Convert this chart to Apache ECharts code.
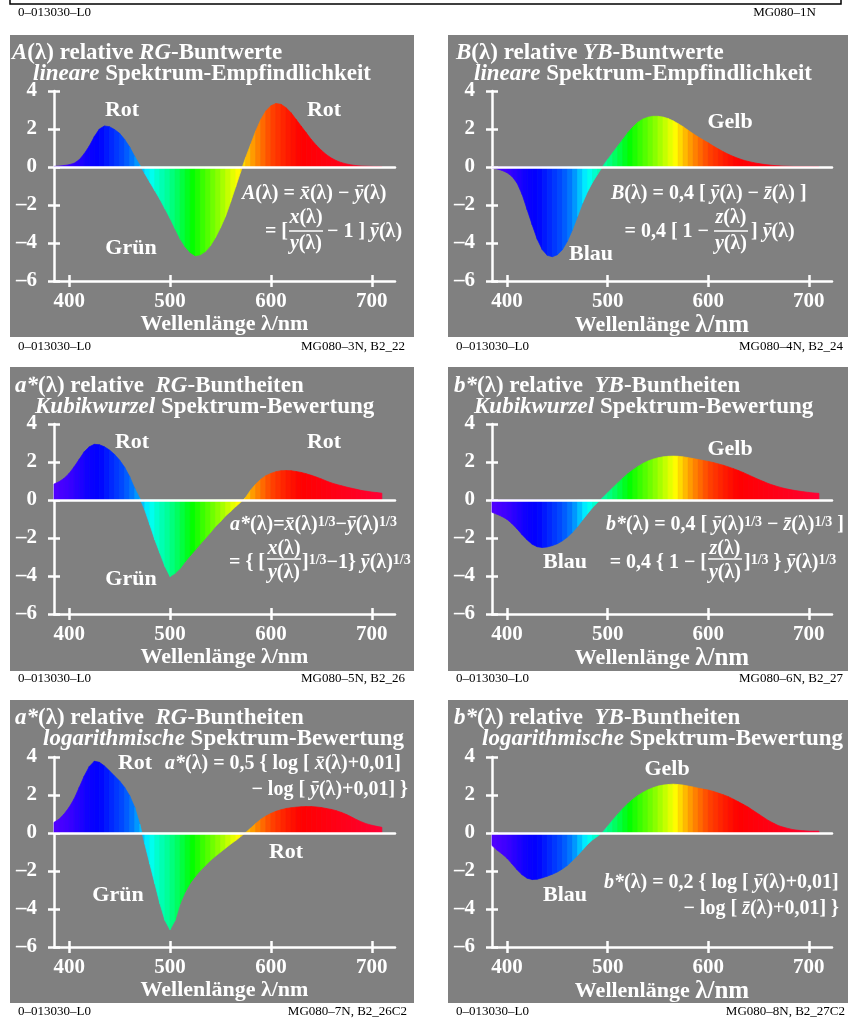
<!DOCTYPE html>
<html>
<head>
<meta charset="utf-8">
<script src="https://cdn.jsdelivr.net/npm/echarts@6/dist/echarts.min.js"></script>
<style>
html,body{margin:0;padding:0;background:#fff;}
#chart{width:848px;height:1023px;}
</style>
</head>
<body>
<div id="chart"></div>
<script>
// Stuetzstellen (nm)
var wavelengths = [385,390,395,400,405,410,415,420,425,430,
  435,440,445,450,455,460,465,470,475,480,
  485,490,495,500,505,510,515,520,525,530,
  535,540,545,550,555,560,565,570,575,580,
  585,590,595,600,605,610,615,620,625,630,
  635,640,645,650,655,660,665,670,675,680,
  685,690,695,700,705,710];

// A(lambda) lineare RG-Buntwerte
var aLinear = [0.03,0.05,0.08,0.12,0.2,0.38,0.7,1.1,1.6,2.0,
  2.16,2.12,1.97,1.77,1.45,1.05,0.55,0.1,-0.35,-0.8,
  -1.25,-1.7,-2.2,-2.7,-3.25,-3.78,-4.2,-4.5,-4.67,-4.62,
  -4.45,-4.15,-3.72,-3.2,-2.6,-1.85,-1.05,-0.25,0.5,1.2,
  1.9,2.5,2.95,3.22,3.34,3.3,3.12,2.85,2.5,2.15,
  1.8,1.45,1.15,0.88,0.65,0.47,0.33,0.23,0.16,0.11,
  0.07,0.05,0.04,0.03,0.02,0.01];

// B(lambda) lineare YB-Buntwerte
var bLinear = [-0.05,-0.1,-0.18,-0.3,-0.5,-0.85,-1.45,-2.25,-3.05,-3.8,
  -4.35,-4.65,-4.72,-4.62,-4.35,-3.9,-3.3,-2.6,-1.9,-1.3,
  -0.8,-0.38,0.03,0.4,0.75,1.1,1.45,1.8,2.1,2.35,
  2.52,2.62,2.67,2.67,2.63,2.55,2.43,2.28,2.12,1.93,
  1.75,1.58,1.42,1.27,1.1,0.95,0.8,0.67,0.55,0.45,
  0.36,0.29,0.23,0.18,0.14,0.11,0.08,0.06,0.045,0.035,
  0.025,0.02,0.015,0.01,0.01,0.01];

// a*(lambda) Kubikwurzel
var aCubic = [0.84,0.96,1.14,1.4,1.75,2.14,2.54,2.8,2.93,2.91,
  2.8,2.63,2.4,2.1,1.72,1.23,0.61,0.09,-0.53,-1.3,
  -2.1,-2.8,-3.5,-4.03,-3.86,-3.6,-3.25,-2.93,-2.63,-2.32,
  -2.02,-1.72,-1.4,-1.14,-0.84,-0.61,-0.35,-0.12,0.14,0.53,
  0.84,1.09,1.28,1.4,1.49,1.54,1.55,1.54,1.5,1.45,
  1.38,1.3,1.21,1.11,1.0,0.9,0.82,0.75,0.68,0.62,
  0.56,0.5,0.46,0.42,0.39,0.36];

// b*(lambda) Kubikwurzel
var bCubic = [-0.65,-0.75,-0.87,-1.02,-1.25,-1.52,-1.83,-2.1,-2.33,-2.46,
  -2.5,-2.47,-2.4,-2.3,-2.15,-1.95,-1.7,-1.4,-1.05,-0.72,
  -0.4,-0.13,0.12,0.38,0.64,0.9,1.15,1.38,1.58,1.76,
  1.92,2.05,2.15,2.22,2.27,2.3,2.31,2.3,2.27,2.23,
  2.18,2.13,2.08,2.03,1.97,1.9,1.83,1.74,1.65,1.55,
  1.44,1.32,1.2,1.08,0.97,0.86,0.77,0.69,0.62,0.56,
  0.51,0.47,0.43,0.4,0.37,0.35];

// a*(lambda) logarithmisch
var aLog = [0.56,0.73,1.0,1.35,1.8,2.4,3.0,3.5,3.78,3.72,
  3.53,3.27,3.0,2.74,2.4,1.96,1.35,0.47,-0.58,-1.63,
  -2.67,-3.72,-4.6,-5.09,-4.6,-3.72,-3.11,-2.64,-2.29,-1.98,
  -1.71,-1.45,-1.22,-1.01,-0.8,-0.59,-0.4,-0.19,0.02,0.26,
  0.5,0.72,0.89,1.03,1.14,1.22,1.29,1.33,1.36,1.38,
  1.39,1.39,1.37,1.34,1.29,1.24,1.17,1.08,0.97,0.84,
  0.7,0.58,0.48,0.41,0.35,0.3];

// b*(lambda) logarithmisch
var bLog = [-0.66,-0.9,-1.1,-1.33,-1.63,-1.94,-2.2,-2.38,-2.45,-2.43,
  -2.36,-2.27,-2.17,-2.05,-1.89,-1.7,-1.45,-1.19,-0.89,-0.6,
  -0.36,-0.17,0.04,0.36,0.68,0.99,1.28,1.54,1.77,1.97,
  2.13,2.27,2.38,2.47,2.52,2.55,2.57,2.55,2.52,2.47,
  2.42,2.36,2.31,2.26,2.19,2.1,2.01,1.91,1.78,1.64,
  1.5,1.35,1.17,1.0,0.82,0.65,0.51,0.38,0.3,0.23,
  0.17,0.14,0.12,0.1,0.1,0.1];

var xTickValues = [400,500,600,700];
var yTicks = [-6,-4,-2,0,2,4];

// Farbtabelle Spektrum (nm -> rgb)
var spectrumStops = [
  [380,[90,0,255]],[400,[60,0,255]],[420,[10,0,255]],[430,[0,0,255]],
  [445,[0,48,255]],[455,[0,80,255]],[465,[0,130,255]],[472,[0,190,255]],
  [480,[0,255,255]],[490,[0,255,190]],[500,[0,255,140]],[510,[0,255,80]],
  [522,[0,255,0]],[535,[70,255,0]],[548,[140,255,0]],[558,[200,255,0]],
  [567,[255,255,0]],[575,[255,200,0]],[585,[255,140,0]],[600,[255,70,0]],
  [615,[255,30,0]],[630,[255,0,0]],[680,[255,0,30]],[720,[255,0,60]]
];

var F = '"Liberation Serif","Times New Roman",serif';
var GRAY = '#808080';
var AXW = 2.5;

function spectrumColor(l){
  var s = spectrumStops;
  if(l <= s[0][0]) return 'rgb(' + s[0][1].join(',') + ')';
  for(var i=1;i<s.length;i++){
    if(l <= s[i][0]){
      var t = (l - s[i-1][0]) / (s[i][0] - s[i-1][0]);
      var c = [];
      for(var k=0;k<3;k++) c.push(Math.round(s[i-1][1][k] + t*(s[i][1][k]-s[i-1][1][k])));
      return 'rgb(' + c.join(',') + ')';
    }
  }
  return 'rgb(' + s[s.length-1][1].join(',') + ')';
}

function bandData(values){
  var d = [];
  for(var i=0;i<values.length-1;i++){
    d.push([wavelengths[i], values[i], wavelengths[i+1], values[i+1]]);
  }
  return d;
}

function renderBand(params, api){
  var l0 = api.value(0), v0 = api.value(1), l1 = api.value(2), v1 = api.value(3);
  var c = spectrumColor((l0 + l1) / 2);
  return {
    type: 'polygon',
    shape: { points: [api.coord([l0,0]), api.coord([l0,v0]), api.coord([l1,v1]), api.coord([l1,0])] },
    style: { fill: c, stroke: c, lineWidth: 0.7 }
  };
}

// Grids: links / rechts, drei Zeilen
var gridPos = [[54,91,341],[492,91,340],[54,424,341],[492,424,340],[54,757,341],[492,757,340]];
var panelValues = [aLinear, bLinear, aCubic, bCubic, aLog, bLog];

var tickStyle = {color:'#fff', width:AXW};
var grids = [], xAxes = [], yAxes = [], series = [];
gridPos.forEach(function(p, g){
  var right = (g % 2 == 1);
  grids.push({left:p[0], top:p[1], width:p[2], height:190, containLabel:false, outerBoundsMode:'none'});
  var xb = {gridIndex:g, type:'value', min:385, max:723, position:'bottom', splitLine:{show:false}};
  xAxes.push(Object.assign({}, xb, {
    axisLine:{show:true, onZero:false, lineStyle:tickStyle},
    axisTick:{show:true, inside:true, length:6, customValues:xTickValues, lineStyle:tickStyle},
    axisLabel:{show:true, customValues:xTickValues, color:'#fff', fontFamily:F, fontSize:21, fontWeight:'bold', margin:10},
    name: right ? 'Wellenlänge {b|λ/nm}' : 'Wellenlänge λ/nm',
    nameLocation:'middle', nameGap:28,
    nameTextStyle:{color:'#fff', fontFamily:F, fontSize:22, fontWeight:'bold',
      rich:{b:{color:'#fff', fontFamily:F, fontSize:25, fontWeight:'bold'}}}
  }));
  xAxes.push(Object.assign({}, xb, {
    axisLine:{show:false, onZero:false},
    axisTick:{show:true, inside:false, length:6, customValues:xTickValues, lineStyle:tickStyle},
    axisLabel:{show:false}
  }));
  xAxes.push(Object.assign({}, xb, {
    z:10,
    axisLine:{show:true, onZero:true, lineStyle:tickStyle},
    axisTick:{show:false}, axisLabel:{show:false}
  }));
  var yb = {gridIndex:g, type:'value', min:yTicks[0], max:yTicks[yTicks.length-1], interval:2, position:'left', splitLine:{show:false}};
  yAxes.push(Object.assign({}, yb, {
    axisLine:{show:true, onZero:false, lineStyle:tickStyle},
    axisTick:{show:true, inside:true, length:6, lineStyle:tickStyle},
    axisLabel:{color:'#fff', fontFamily:F, fontSize:21, fontWeight:'bold', margin:17,
      formatter:function(v){ return v < 0 ? '–' + (-v) : String(v); }}
  }));
  yAxes.push(Object.assign({}, yb, {
    axisLine:{show:false, onZero:false},
    axisTick:{show:true, inside:false, length:6, lineStyle:tickStyle},
    axisLabel:{show:false}
  }));
  series.push({
    type:'custom', xAxisIndex:3*g, yAxisIndex:2*g, z:2, silent:true,
    renderItem: renderBand, encode:{x:0, y:1},
    data: bandData(panelValues[g])
  });
});

// Texte
function richSet(size){
  return {
    i:{fontStyle:'italic', fontWeight:'bold', fontSize:size, fontFamily:F, fill:'#fff'},
    s:{fontStyle:'normal', fontWeight:'bold', fontSize:Math.round(size*0.7), fontFamily:F, fill:'#fff', verticalAlign:'top'}
  };
}
function txt(x, y, text, size, align){
  return {type:'text', x:x, y:y, z:100, silent:true,
    style:{text:text, fill:'#fff', fontFamily:F, fontSize:size, fontWeight:'bold',
      align:align || 'left', verticalAlign:'middle', rich:richSet(size)}};
}
function foot(x, y, text, align){
  return {type:'text', x:x, y:y, z:100, silent:true,
    style:{text:text, fill:'#000', fontFamily:F, fontSize:13, fontWeight:'normal',
      align:align || 'left', verticalAlign:'middle'}};
}
function frac(cx, yNum, yBar, yDen, half, num, den){
  return [
    txt(cx, yNum, num, 20, 'center'),
    {type:'line', z:100, silent:true, shape:{x1:cx-half, y1:yBar, x2:cx+half, y2:yBar}, style:{stroke:'#fff', lineWidth:1.6}},
    txt(cx, yDen, den, 20, 'center')
  ];
}

var xb = 'x\u0304', zb = 'z\u0304', yb = '\u0233';
var graphics = [];
[[10,35,302],[448,35,302],[10,367,304],[448,367,304],[10,700,303],[448,700,303]].forEach(function(r){
  graphics.push({type:'rect', z:-10, silent:true, shape:{x:r[0], y:r[1], width:404, height:r[2]}, style:{fill:GRAY}});
});
graphics.push({type:'polyline', z:100, silent:true, shape:{points:[[10,0],[10,4],[841,4],[841,0]]}, style:{stroke:'#000', lineWidth:1.5, fill:null}});

// Titel
graphics.push(
  txt(12, 53, '{i|A}(λ) relative {i|RG}-Buntwerte', 23),
  txt(33, 74, '{i|lineare} Spektrum-Empfindlichkeit', 23),
  txt(456, 53, '{i|B}(λ) relative {i|YB}-Buntwerte', 23),
  txt(474, 74, '{i|lineare} Spektrum-Empfindlichkeit', 23),
  txt(15, 386, '{i|a*}(λ) relative  {i|RG}-Buntheiten', 23),
  txt(35, 407, '{i|Kubikwurzel} Spektrum-Bewertung', 23),
  txt(454, 386, '{i|b*}(λ) relative  {i|YB}-Buntheiten', 23),
  txt(474, 407, '{i|Kubikwurzel} Spektrum-Bewertung', 23),
  txt(15, 718, '{i|a*}(λ) relative  {i|RG}-Buntheiten', 23),
  txt(43, 739, '{i|logarithmische} Spektrum-Bewertung', 23),
  txt(454, 718, '{i|b*}(λ) relative  {i|YB}-Buntheiten', 23),
  txt(482, 739, '{i|logarithmische} Spektrum-Bewertung', 23)
);

// Farbnamen
graphics.push(
  txt(122, 110, 'Rot', 22, 'center'), txt(324, 110, 'Rot', 22, 'center'), txt(131, 248, 'Grün', 22, 'center'),
  txt(730, 122, 'Gelb', 22, 'center'), txt(591, 254, 'Blau', 22, 'center'),
  txt(132, 442, 'Rot', 22, 'center'), txt(324, 442, 'Rot', 22, 'center'), txt(131, 579, 'Grün', 22, 'center'),
  txt(730, 449, 'Gelb', 22, 'center'), txt(565, 562, 'Blau', 22, 'center'),
  txt(135, 763, 'Rot', 22, 'center'), txt(286, 852, 'Rot', 22, 'center'), txt(118, 895, 'Grün', 22, 'center'),
  txt(667, 769, 'Gelb', 22, 'center'), txt(565, 895, 'Blau', 22, 'center')
);

// Formeln
graphics.push(
  txt(242, 194, '{i|A}(λ) = {i|' + xb + '}(λ) − {i|' + yb + '}(λ)', 20),
  txt(288, 232, '= [', 20, 'right'),
  txt(327, 232, '− 1 ] {i|' + yb + '}(λ)', 20),
  txt(611, 194, '{i|B}(λ) = 0,4 [ {i|' + yb + '}(λ) − {i|' + zb + '}(λ) ]', 20),
  txt(709, 232, '= 0,4 [ 1 −', 20, 'right'),
  txt(751, 232, '] {i|' + yb + '}(λ)', 20),
  txt(230, 525, '{i|a*}(λ)={i|' + xb + '}(λ){s|1/3}−{i|' + yb + '}(λ){s|1/3}', 20),
  txt(265, 563, '= { [', 20, 'right'),
  txt(302, 563, ']{s|1/3}−1} {i|' + yb + '}(λ){s|1/3}', 20),
  txt(606, 525, '{i|b*}(λ) = 0,4 [ {i|' + yb + '}(λ){s|1/3} − {i|' + zb + '}(λ){s|1/3} ]', 20),
  txt(707, 563, '= 0,4 { 1 − [', 20, 'right'),
  txt(744, 563, ']{s|1/3} } {i|' + yb + '}(λ){s|1/3}', 20),
  txt(165, 764, '{i|a*}(λ) = 0,5 { log [ {i|' + xb + '}(λ)+0,01]', 20),
  txt(408, 790, '− log [ {i|' + yb + '}(λ)+0,01] }', 20, 'right'),
  txt(604, 883, '{i|b*}(λ) = 0,2 { log [ {i|' + yb + '}(λ)+0,01]', 20),
  txt(839, 909, '− log [ {i|' + zb + '}(λ)+0,01] }', 20, 'right')
);
graphics = graphics.concat(
  frac(306, 218, 231, 244, 17, '{i|x}(λ)', '{i|y}(λ)'),
  frac(731, 218, 231, 244, 17, '{i|z}(λ)', '{i|y}(λ)'),
  frac(284, 549, 559, 573, 17, '{i|x}(λ)', '{i|y}(λ)'),
  frac(725, 549, 559, 573, 17, '{i|z}(λ)', '{i|y}(λ)')
);

// Kopf- und Fusszeilen
graphics.push(
  foot(18, 13, '0–013030–L0'), foot(816, 13, 'MG080–1N', 'right'),
  foot(18, 347, '0–013030–L0'), foot(405, 347, 'MG080–3N, B2_22', 'right'),
  foot(456, 347, '0–013030–L0'), foot(843, 347, 'MG080–4N, B2_24', 'right'),
  foot(18, 679, '0–013030–L0'), foot(405, 679, 'MG080–5N, B2_26', 'right'),
  foot(456, 679, '0–013030–L0'), foot(843, 679, 'MG080–6N, B2_27', 'right'),
  foot(18, 1012, '0–013030–L0'), foot(407, 1012, 'MG080–7N, B2_26C2', 'right'),
  foot(456, 1012, '0–013030–L0'), foot(845, 1012, 'MG080–8N, B2_27C2', 'right')
);

var chart = echarts.init(document.getElementById('chart'), null, {renderer:'canvas'});
chart.setOption({
  animation:false,
  backgroundColor:'#fff',
  grid:grids,
  xAxis:xAxes,
  yAxis:yAxes,
  series:series,
  graphic:{elements:graphics}
});
</script>
</body>
</html>
